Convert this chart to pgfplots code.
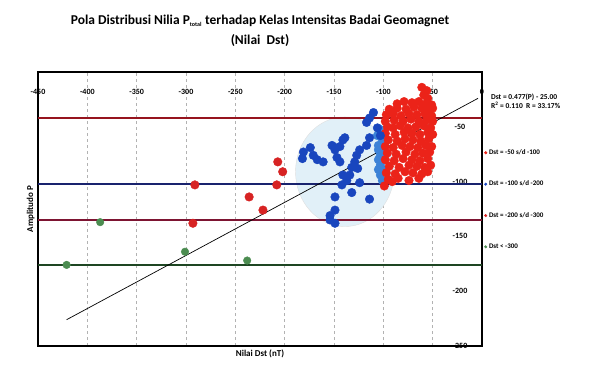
\documentclass[border=0pt]{standalone}
\usepackage{fontspec}
\setmainfont{Carlito}
\usepackage{pgfplots}
\pgfplotsset{compat=1.18}
\definecolor{redpt}{RGB}{235,35,25}
\definecolor{bluept}{RGB}{25,70,190}
\definecolor{lbluept}{RGB}{60,130,215}
\definecolor{darkredpt}{RGB}{215,35,35}
\definecolor{greenpt}{RGB}{75,140,80}
\definecolor{redline}{RGB}{150,20,30}
\definecolor{blueline}{RGB}{25,35,110}
\definecolor{maroonline}{RGB}{125,20,50}
\definecolor{greenline}{RGB}{30,70,35}
\definecolor{circfill}{RGB}{225,240,248}
\begin{document}
\begin{tikzpicture}
\useasboundingbox (-38pt,-19pt) rectangle (552pt,346pt);
\begin{axis}[
  scale only axis,
  width=444pt, height=274pt,
  xmin=-450, xmax=0, ymin=-250, ymax=0,
  axis line style={line width=1.6pt},
  xtick={-450,-400,...,0},
  ytick={-50,-100,-150,-200,-250},
  xticklabel pos=upper,
  yticklabel pos=right,
  major tick length=0pt,
  xticklabel style={anchor=center, yshift=-20pt, font=\fontsize{8}{9}\selectfont\bfseries},
  yticklabel style={anchor=center, xshift=-22pt, font=\fontsize{8}{9}\selectfont\bfseries},
  /pgf/number format/assume math mode=true,
  xmajorgrids,
  major grid style={gray!60, dashed, line width=0.6pt},
  title={Pola Distribusi Nilia P\textsubscript{\fontsize{6}{6}\selectfont total} terhadap Kelas Intensitas Badai Geomagnet\\(Nilai\ \ Dst)},
  title style={at={(rel axis cs:0.5,1)}, anchor=south, yshift=16pt, align=center, font=\fontsize{13.5}{20}\selectfont\bfseries},
  xlabel={Nilai Dst (nT)},
  xlabel style={at={(rel axis cs:0.5,0)}, anchor=north, yshift=0pt, font=\fontsize{9}{10}\selectfont\bfseries},
  ylabel={Amplitudo P},
  ylabel style={at={(rel axis cs:0,0.5)}, anchor=south, rotate=0, yshift=0pt, font=\fontsize{9}{10}\selectfont\bfseries},
  legend style={at={(rel axis cs:1.005,0.725)}, anchor=north west, draw=none, fill=none,
    font=\fontsize{7}{8}\selectfont\bfseries, row sep=21pt, inner sep=0pt},
  legend cell align=left,
  legend image post style={mark size=1.3pt},
  legend image code/.code={\draw[#1] plot coordinates {(0.06cm,0cm)};},
  clip=false,
]
% shaded circle
\fill[circfill, draw=gray!25] (axis cs:-139,-91) ellipse [x radius=50, y radius=50];
% class lines
\addplot[redline, line width=1.5pt, forget plot] coordinates {(-450,-42) (0,-42)};
\addplot[blueline, line width=1.5pt, forget plot] coordinates {(-450,-102) (0,-102)};
\addplot[maroonline, line width=1.5pt, forget plot] coordinates {(-450,-135) (0,-135)};
\addplot[greenline, line width=1.5pt, forget plot] coordinates {(-450,-176) (0,-176)};
% trend line
\addplot[black, line width=0.7pt, forget plot] coordinates {(-421,-226) (-4,-24)};
% light blue band (class -100 to -200)
\addplot[only marks, mark=*, mark size=4.3pt, color=lbluept, forget plot] coordinates {
(-105,-67)(-103,-76)(-103,-85)(-103,-94)(-105,-71)(-105,-80)(-105,-89)(-101,-99)
(-101,-62)(-101,-71)(-101,-80)(-101,-89)(-106,-58)(-104,-52)};
% Dst -50 to -100
\addplot[only marks, mark=*, mark size=4.3pt, color=redpt] coordinates {
(-61,-14)(-56,-17)(-59,-21)(-55,-24)
(-86,-29)(-79,-27)(-71,-28)(-64,-27)(-57,-29)(-51,-30)
(-94,-34)(-86,-33)(-77,-34)(-69,-32)(-61,-33)(-54,-34)(-50,-33)
(-97,-39)(-90,-38)(-82,-40)(-74,-38)(-66,-39)(-58,-38)(-51,-40)
(-98,-45)(-89,-44)(-80,-45)(-72,-43)(-64,-45)(-56,-44)(-50,-45)
(-96,-50)(-90,-51)(-83,-49)(-75,-51)(-67,-50)(-59,-49)(-52,-51)
(-98,-56)(-88,-57)(-79,-55)(-71,-56)(-63,-57)(-55,-55)(-50,-57)
(-95,-62)(-86,-63)(-78,-61)(-70,-62)(-62,-63)(-54,-61)
(-98,-68)(-90,-69)(-81,-67)(-73,-68)(-65,-69)(-57,-67)(-51,-68)
(-96,-74)(-87,-75)(-77,-73)(-68,-75)(-60,-74)(-53,-73)
(-98,-80)(-89,-81)(-80,-79)(-71,-80)(-63,-81)(-55,-79)
(-94,-86)(-84,-87)(-74,-85)(-66,-86)(-58,-87)(-52,-85)
(-97,-92)(-88,-93)(-78,-91)(-70,-92)(-61,-93)(-55,-91)
(-95,-98)(-85,-97)(-74,-99)(-64,-97)
(-99,-104)(-91,-100)};
\addlegendentry{Dst = -50 s/d -100}
% Dst -100 to -200
\addplot[only marks, mark=*, mark size=4.3pt, color=bluept] coordinates {
(-110,-37)(-114,-42)(-117,-46)(-106,-51)(-103,-58)(-114,-60)(-117,-67)(-124,-71)(-127,-76)(-129,-82)(-126,-88)
(-139,-60)(-144,-68)(-149,-71)(-147,-78)(-144,-82)(-152,-67)
(-181,-73)(-174,-69)(-182,-79)(-171,-76)(-167,-80)(-161,-82)
(-134,-94)(-137,-99)(-124,-101)(-142,-103)(-149,-114)(-132,-110)(-114,-116)
(-149,-126)(-154,-135)(-149,-138)(-154,-131)
(-141,-62)(-149,-69)(-141,-94)(-132,-87)};
\addlegendentry{Dst = -100 s/d -200}
% Dst -200 to -300
\addplot[only marks, mark=*, mark size=4.3pt, color=darkredpt] coordinates {
(-291,-103)(-208,-103)(-236,-114)(-222,-126)(-293,-138)(-207,-82)(-202,-91)};
\addlegendentry{Dst = -200 s/d -300}
% Dst < -300
\addplot[only marks, mark=*, mark size=3.8pt, color=greenpt] coordinates {
(-421,-176)(-387,-137)(-301,-164)(-238,-172)};
\addlegendentry{Dst < -300}
\node[anchor=west, align=left, font=\fontsize{7.5}{9}\selectfont\bfseries, inner sep=0pt]
  at (rel axis cs:1.02,0.895) {Dst = 0.477(P) - 25.00\\R\textsuperscript{2} = 0.110\ \ R = 33.17\%};
\end{axis}
\end{tikzpicture}
\end{document}
